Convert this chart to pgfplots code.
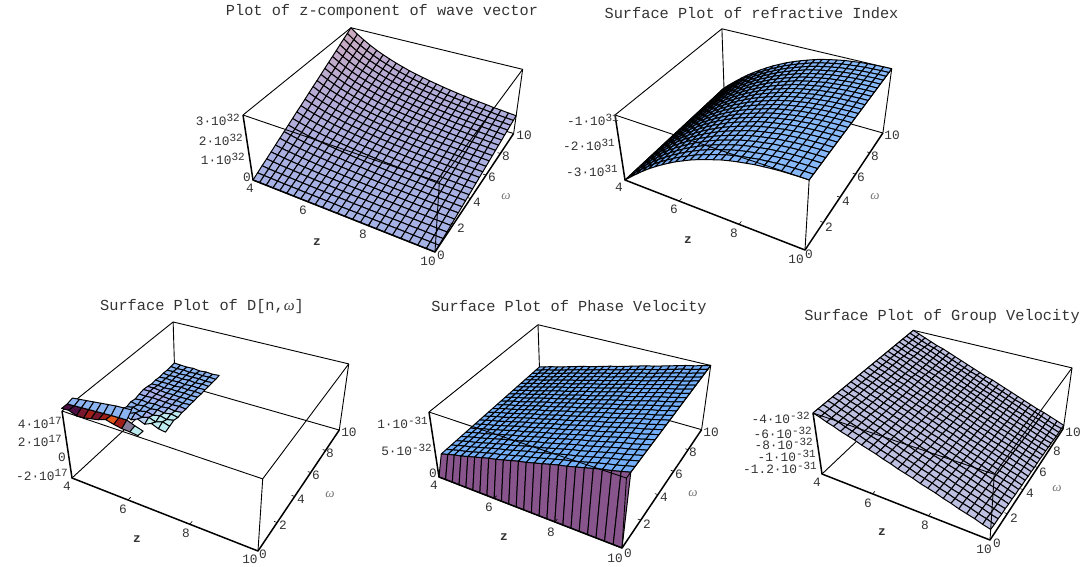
\documentclass[border=0pt]{standalone}
\usepackage{fontspec}
\usepackage{pgfplots}
\usepackage{pgfplotstable}
\pgfplotsset{compat=1.18}
\setmainfont{Liberation Mono}
\newfontfamily\wfont{Liberation Serif}

% the five boxes share one view; coordinates are image pixels, y down
\def\camA{-.137}\def\camB{.2}\def\camC{-.07}
\newcommand\setcam[8]{% O (z=4,w=0), U (z=10,w=0), V (z=4,w=10), T (top of O)
  \pgfmathsetmacro\xo{#1}\pgfmathsetmacro\yo{#2}
  \pgfmathsetmacro\xu{#3*(1+\camA)-#1}\pgfmathsetmacro\yu{#4*(1+\camA)-#2}
  \pgfmathsetmacro\xv{#5*(1+\camB)-#1}\pgfmathsetmacro\yv{#6*(1+\camB)-#2}
  \pgfmathsetmacro\xt{#7*(1+\camC)-#1}\pgfmathsetmacro\yt{#8*(1+\camC)-#2}}
\newcommand\PW[3]{(1+\camA*(#1)+\camB*(#2)+\camC*(#3))}
\newcommand\PX[3]{((\xo+\xu*(#1)+\xv*(#2)+\xt*(#3))/\PW{#1}{#2}{#3})}
\newcommand\PY[3]{(-(\yo+\yu*(#1)+\yv*(#2)+\yt*(#3))/\PW{#1}{#2}{#3})}
% row and column of a table entry; the .5 keeps floor safe from rounding
\newcommand\rowof[1]{floor((\coordindex+.5)/#1)}
\newcommand\colof[1]{(\coordindex-#1*\rowof{#1})}

\newcommand\surface[7][]{% options, table, cols, first z index, first w index, fmin, frange
  \addplot3[surf,shader=faceted,z buffer=none,faceted color=black,line width=1pt,line join=round,mesh/cols=#3,#1] table[
    x index=0,y index=0,z index=0,
    x expr=\PX{(#4+\colof{#3})/24}{(#5-\rowof{#3})/24}{(\thisrow{f}-(#6))/(#7)},
    y expr=\PY{(#4+\colof{#3})/24}{(#5-\rowof{#3})/24}{(\thisrow{f}-(#6))/(#7)},
    z expr=\thisrow{f}] {#2};}
\newcommand\edge[2][.9pt]{%
  \addplot3[black,no marks,line width=#1,line join=round] table[row sep=\\,
    x expr=\PX{\thisrow{u}}{\thisrow{v}}{\thisrow{t}},
    y expr=\PY{\thisrow{u}}{\thisrow{v}}{\thisrow{t}},
    z expr=0] {u v t\\#2};}
\newcommand\boxback{%
  \edge{0 0 1\\0 1 1\\1 1 1\\1 1 0\\}
  \edge{0 0 0\\0 1 0\\1 1 0\\}
  \edge{0 1 0\\0 1 1\\}}
\newcommand\boxfront{%
  \edge{0 0 1\\1 0 1\\1 1 1\\}
  \edge{1 0 0\\1 0 1\\}
  \edge[1.5pt]{0 0 1\\0 0 0\\1 0 0\\1 1 0\\}
  \edge[.6pt]{.333 0 0\\.333 .022 0\\}\edge[.6pt]{.667 0 0\\.667 .022 0\\}
  \edge[.6pt]{1 .2 0\\.985 .2 0\\}\edge[.6pt]{1 .4 0\\.985 .4 0\\}
  \edge[.6pt]{1 .6 0\\.985 .6 0\\}\edge[.6pt]{1 .8 0\\.985 .8 0\\}}

\tikzset{tk/.style={font=\fontsize{12.8}{13}\selectfont,inner sep=0pt,text=black!80},
  ttl/.style={font=\fontsize{15.3}{16}\selectfont,inner sep=0pt,text=black!80}}
\newcommand\pw[2]{#1·10\raisebox{.7ex}{\fontsize{11}{11}\selectfont #2}}
\newcommand\wlet{{\wfont\itshape ω}}
\newcommand\lab[3]{\node[tk] at (axis cs:#1,-#2,0) {#3};}
\newcommand\rlab[3]{\node[tk,anchor=east] at (axis cs:#1,-#2,0) {#3};}
\newcommand\wlab[2]{\node[tk,text=black!55,font=\fontsize{13}{13}\selectfont] at (axis cs:#1,-#2,0) {\wlet};}
\newcommand\zlab[2]{\node[tk,font=\fontsize{12.8}{13}\bfseries\selectfont] at (axis cs:#1,-#2,0) {z};}
\newcommand\ttl[3]{\node[ttl] at (axis cs:#1,-#2,0) {#3};}

\pgfplotsset{panel/.style={at={(0,0)},anchor=south west,scale only axis,width=1089pt,height=567pt,
  xmin=0,xmax=1089,ymin=-567,ymax=0,view={0}{90},hide axis,clip=false},
  colormap={mapA}{rgb255(0cm)=(165,178,230); rgb255(1cm)=(182,172,215); rgb255(2cm)=(205,170,190)},
  colormap={mapB}{rgb255(0cm)=(105,158,235); rgb255(1cm)=(135,185,250)},
  colormap={mapC}{rgb255(0cm)=(140,180,240); rgb255(1cm)=(170,175,235); rgb255(2cm)=(190,235,240); rgb255(3cm)=(75,15,65); rgb255(4cm)=(160,30,25); rgb255(5cm)=(225,85,25)},
  colormap={mapD}{rgb255(0cm)=(115,175,250); rgb255(1cm)=(135,85,140); rgb255(2cm)=(135,85,140)},
  colormap={mapE}{rgb255(0cm)=(190,192,225); rgb255(1cm)=(190,192,225)}}

% z-component of wave vector, in 10^30; rows from w=10 down to w=0
\pgfplotstableread[row sep=\\]{f\\
330\\304\\282\\262\\244\\229\\215\\202\\191\\180\\171\\163\\155\\148\\141\\135\\129\\124\\119\\115\\111\\106\\103\\99\\96\\
316\\291\\270\\251\\234\\219\\206\\194\\183\\173\\164\\156\\149\\142\\135\\129\\124\\119\\114\\110\\106\\102\\98\\95\\92\\
303\\279\\258\\240\\224\\210\\197\\185\\175\\165\\157\\149\\142\\136\\130\\124\\119\\114\\109\\105\\101\\97\\94\\91\\88\\
289\\266\\246\\229\\214\\200\\188\\177\\167\\158\\150\\143\\136\\129\\124\\118\\113\\109\\104\\101\\97\\93\\90\\87\\84\\
275\\253\\235\\218\\204\\191\\179\\169\\159\\150\\143\\136\\129\\123\\118\\112\\108\\103\\99\\96\\92\\89\\86\\83\\80\\
261\\241\\223\\207\\193\\181\\170\\160\\151\\143\\136\\129\\123\\117\\112\\107\\102\\98\\94\\91\\88\\84\\81\\78\\76\\
248\\228\\211\\196\\183\\172\\161\\152\\143\\135\\129\\122\\116\\111\\106\\101\\97\\93\\89\\86\\83\\80\\77\\74\\72\\
234\\215\\199\\185\\173\\162\\152\\143\\135\\128\\121\\115\\110\\105\\100\\96\\92\\88\\84\\81\\78\\75\\73\\70\\68\\
220\\203\\188\\174\\163\\152\\143\\135\\127\\120\\114\\109\\103\\99\\94\\90\\86\\83\\79\\77\\74\\71\\68\\66\\64\\
206\\190\\176\\164\\153\\143\\134\\126\\119\\113\\107\\102\\97\\92\\88\\84\\81\\78\\74\\72\\69\\66\\64\\62\\60\\
193\\177\\164\\153\\143\\133\\125\\118\\111\\105\\100\\95\\90\\86\\82\\79\\75\\72\\69\\67\\65\\62\\60\\58\\56\\
179\\165\\152\\142\\132\\124\\116\\110\\103\\98\\93\\88\\84\\80\\77\\73\\70\\67\\64\\62\\60\\58\\56\\54\\52\\
165\\152\\141\\131\\122\\114\\107\\101\\96\\90\\86\\81\\78\\74\\71\\67\\65\\62\\60\\57\\55\\53\\51\\50\\48\\
151\\139\\129\\120\\112\\105\\98\\93\\88\\83\\79\\75\\71\\68\\65\\62\\59\\57\\55\\53\\51\\49\\47\\45\\44\\
138\\127\\117\\109\\102\\95\\90\\84\\80\\75\\71\\68\\65\\62\\59\\56\\54\\52\\50\\48\\46\\44\\43\\41\\40\\
124\\114\\106\\98\\92\\86\\81\\76\\72\\68\\64\\61\\58\\55\\53\\51\\49\\47\\45\\43\\41\\40\\39\\37\\36\\
110\\101\\94\\87\\81\\76\\72\\67\\64\\60\\57\\54\\52\\49\\47\\45\\43\\41\\40\\38\\37\\35\\34\\33\\32\\
96\\89\\82\\76\\71\\67\\63\\59\\56\\53\\50\\48\\45\\43\\41\\39\\38\\36\\35\\34\\32\\31\\30\\29\\28\\
83\\76\\70\\65\\61\\57\\54\\51\\48\\45\\43\\41\\39\\37\\35\\34\\32\\31\\30\\29\\28\\27\\26\\25\\24\\
69\\63\\59\\55\\51\\48\\45\\42\\40\\38\\36\\34\\32\\31\\29\\28\\27\\26\\25\\24\\23\\22\\21\\21\\20\\
55\\51\\47\\44\\41\\38\\36\\34\\32\\30\\29\\27\\26\\25\\24\\22\\22\\21\\20\\19\\18\\18\\17\\17\\16\\
41\\38\\35\\33\\31\\29\\27\\25\\24\\23\\21\\20\\19\\18\\18\\17\\16\\16\\15\\14\\14\\13\\13\\12\\12\\
28\\25\\23\\22\\20\\19\\18\\17\\16\\15\\14\\14\\13\\12\\12\\11\\11\\10\\10\\10\\9\\9\\9\\8\\8\\
14\\13\\12\\11\\10\\10\\9\\8\\8\\8\\7\\7\\6\\6\\6\\6\\5\\5\\5\\5\\5\\4\\4\\4\\4\\
0\\0\\0\\0\\0\\0\\0\\0\\0\\0\\0\\0\\0\\0\\0\\0\\0\\0\\0\\0\\0\\0\\0\\0\\0\\
}\tabA

% refractive index, in 10^29: the same profile along z for every w
\pgfplotstableread[row sep=\\]{f\\
-330\\-307\\-285\\-264\\-244\\-226\\-209\\-193\\-178\\-165\\-152\\-141\\-131\\-122\\-113\\-106\\-100\\-95\\-90\\-87\\-84\\-82\\-81\\-80\\-80\\
}\profB
\pgfplotsforeachungrouped \n in {1,...,25}{\pgfplotstablevertcat\tabB\profB}

% D[n,w], in 10^15: only these cells stay inside the plot range
\pgfplotstableread[row sep=\\]{f c\\
8 0\\4 0\\0 0\\6 0\\-4 0\\4 0\\-2 0\\6 0\\
5 0\\0 0\\6 0\\-3 0\\5 0\\0 0\\4 0\\0 0\\
0 0\\5 0\\-2 0\\4 0\\0 0\\5 0\\-3 0\\2 0\\
4 0\\-3 0\\5 0\\0 0\\6 0\\-2 0\\4 0\\0 0\\
-2 0\\5 0\\0 0\\5 0\\-3 0\\4 0\\0 0\\3 0\\
5 0\\0 0\\5 0\\-2 0\\6 0\\0 0\\3 0\\-2 0\\
0 0\\6 0\\-3 0\\5 0\\0 0\\5 0\\-2 0\\3 0\\
12 1\\15 1\\8 1\\0 0\\5 0\\-2 0\\4 0\\0 0\\
18 1\\20 1\\10 1\\4 1\\0 1\\5 0\\-3 0\\4 0\\
8 0\\5 1\\12 1\\8 1\\4 1\\0 0\\5 0\\-2 0\\
-6 0\\4 0\\-4 0\\6 0\\-3 0\\6 0\\-4 2\\4 2\\
6 0\\-8 0\\6 0\\-6 0\\8 0\\-5 2\\8 2\\-6 2\\
-8 0\\10 0\\-10 0\\8 0\\-8 2\\10 2\\-8 2\\8 2\\
12 0\\-12 0\\14 0\\-12 0\\12 2\\-14 2\\12 2\\-12 2\\
-15 0\\18 0\\-18 0\\16 2\\-18 2\\15 2\\-18 2\\-30 2\\
}\tabCband
\pgfplotstableread[row sep=\\]{f c\\
510 0\\520 0\\530 0\\540 0\\550 0\\560 0\\570 0\\575 0\\580 0\\
495 0\\500 0\\505 0\\510 0\\515 0\\520 0\\525 0\\528 0\\530 0\\
}\tabCstrip
\pgfplotstableread[row sep=\\]{f c\\
495 3\\500 3\\505 3\\510 4\\515 4\\520 3\\525 5\\528 5\\530 3\\500 2\\475 2\\
495 3\\500 3\\470 3\\475 4\\490 4\\505 3\\530 5\\510 5\\495 3\\490 2\\480 2\\
}\tabCdark

% phase velocity, in 10^-33: the same profile for every w, and zero at w=0
\pgfplotstableread[row sep=\\]{f m\\
39 0\\43 0\\47 0\\50 0\\54 0\\58 0\\62 0\\66 0\\69 0\\73 0\\77 0\\81 0\\84 0\\88 0\\92 0\\96 0\\100 0\\103 0\\107 0\\111 0\\115 0\\119 0\\122 0\\126 0\\130 0\\
}\profD
\pgfplotstableread[row sep=\\]{f m\\
0 2\\0 2\\0 2\\0 2\\0 2\\0 2\\0 2\\0 2\\0 2\\0 2\\0 2\\0 2\\0 2\\0 2\\0 2\\0 2\\0 2\\0 2\\0 2\\0 2\\0 2\\0 2\\0 2\\0 2\\0 2\\
}\zeroD
\pgfplotsforeachungrouped \n in {1,...,24}{\pgfplotstablevertcat\tabD\profD}
\pgfplotstablevertcat\tabD\zeroD

% group velocity, in 10^-33
\pgfplotstableread[row sep=\\]{f\\
-32\\-36\\-40\\-44\\-48\\-51\\-55\\-59\\-63\\-67\\-71\\-75\\-79\\-82\\-86\\-90\\-94\\-98\\-102\\-106\\-110\\-113\\-117\\-121\\-125\\
-32\\-36\\-40\\-44\\-47\\-51\\-55\\-59\\-63\\-67\\-71\\-74\\-78\\-82\\-86\\-90\\-94\\-98\\-101\\-105\\-109\\-113\\-117\\-121\\-124\\
-32\\-36\\-40\\-43\\-47\\-51\\-55\\-59\\-63\\-66\\-70\\-74\\-78\\-82\\-86\\-89\\-93\\-97\\-101\\-105\\-109\\-112\\-116\\-120\\-124\\
-32\\-36\\-40\\-43\\-47\\-51\\-55\\-59\\-63\\-66\\-70\\-74\\-78\\-82\\-85\\-89\\-93\\-97\\-101\\-104\\-108\\-112\\-116\\-120\\-124\\
-32\\-36\\-40\\-43\\-47\\-51\\-55\\-59\\-62\\-66\\-70\\-74\\-78\\-81\\-85\\-89\\-93\\-96\\-100\\-104\\-108\\-112\\-115\\-119\\-123\\
-32\\-36\\-40\\-43\\-47\\-51\\-55\\-58\\-62\\-66\\-70\\-73\\-77\\-81\\-85\\-89\\-92\\-96\\-100\\-104\\-107\\-111\\-115\\-119\\-122\\
-32\\-36\\-40\\-43\\-47\\-51\\-55\\-58\\-62\\-66\\-70\\-73\\-77\\-81\\-85\\-88\\-92\\-96\\-100\\-103\\-107\\-111\\-115\\-118\\-122\\
-32\\-36\\-39\\-43\\-47\\-51\\-54\\-58\\-62\\-66\\-69\\-73\\-77\\-80\\-84\\-88\\-92\\-95\\-99\\-103\\-107\\-110\\-114\\-118\\-121\\
-32\\-36\\-39\\-43\\-47\\-51\\-54\\-58\\-62\\-65\\-69\\-73\\-77\\-80\\-84\\-88\\-91\\-95\\-99\\-102\\-106\\-110\\-114\\-117\\-121\\
-32\\-36\\-39\\-43\\-47\\-50\\-54\\-58\\-62\\-65\\-69\\-73\\-76\\-80\\-84\\-87\\-91\\-95\\-98\\-102\\-106\\-109\\-113\\-117\\-120\\
-32\\-36\\-39\\-43\\-47\\-50\\-54\\-58\\-61\\-65\\-69\\-72\\-76\\-80\\-83\\-87\\-91\\-94\\-98\\-102\\-105\\-109\\-113\\-116\\-120\\
-32\\-36\\-39\\-43\\-47\\-50\\-54\\-58\\-61\\-65\\-68\\-72\\-76\\-79\\-83\\-87\\-90\\-94\\-98\\-101\\-105\\-108\\-112\\-116\\-120\\
-32\\-36\\-39\\-43\\-47\\-50\\-54\\-57\\-61\\-65\\-68\\-72\\-76\\-79\\-83\\-86\\-90\\-94\\-97\\-101\\-105\\-108\\-112\\-115\\-119\\
-32\\-36\\-39\\-43\\-46\\-50\\-54\\-57\\-61\\-64\\-68\\-72\\-75\\-79\\-82\\-86\\-90\\-93\\-97\\-100\\-104\\-108\\-111\\-115\\-119\\
-32\\-36\\-39\\-43\\-46\\-50\\-53\\-57\\-61\\-64\\-68\\-71\\-75\\-79\\-82\\-86\\-89\\-93\\-96\\-100\\-104\\-107\\-111\\-114\\-118\\
-32\\-36\\-39\\-43\\-46\\-50\\-53\\-57\\-60\\-64\\-68\\-71\\-75\\-78\\-82\\-85\\-89\\-93\\-96\\-100\\-103\\-107\\-110\\-114\\-118\\
-32\\-36\\-39\\-43\\-46\\-50\\-53\\-57\\-60\\-64\\-67\\-71\\-75\\-78\\-82\\-85\\-89\\-92\\-96\\-99\\-103\\-106\\-110\\-113\\-117\\
-32\\-36\\-39\\-43\\-46\\-50\\-53\\-57\\-60\\-64\\-67\\-71\\-74\\-78\\-81\\-85\\-88\\-92\\-95\\-99\\-102\\-106\\-109\\-113\\-117\\
-32\\-36\\-39\\-43\\-46\\-50\\-53\\-57\\-60\\-64\\-67\\-71\\-74\\-78\\-81\\-85\\-88\\-92\\-95\\-99\\-102\\-106\\-109\\-113\\-116\\
-32\\-35\\-39\\-42\\-46\\-49\\-53\\-56\\-60\\-63\\-67\\-70\\-74\\-77\\-81\\-84\\-88\\-91\\-95\\-98\\-102\\-105\\-109\\-112\\-116\\
-32\\-35\\-39\\-42\\-46\\-49\\-53\\-56\\-60\\-63\\-67\\-70\\-74\\-77\\-80\\-84\\-87\\-91\\-94\\-98\\-101\\-105\\-108\\-112\\-115\\
-32\\-35\\-39\\-42\\-46\\-49\\-53\\-56\\-59\\-63\\-66\\-70\\-73\\-77\\-80\\-84\\-87\\-90\\-94\\-97\\-101\\-104\\-108\\-111\\-115\\
-32\\-35\\-39\\-42\\-46\\-49\\-53\\-56\\-59\\-63\\-66\\-70\\-73\\-76\\-80\\-83\\-87\\-90\\-94\\-97\\-100\\-104\\-107\\-111\\-114\\
-32\\-35\\-39\\-42\\-46\\-49\\-52\\-56\\-59\\-63\\-66\\-69\\-73\\-76\\-80\\-83\\-86\\-90\\-93\\-97\\-100\\-103\\-107\\-110\\-114\\
-32\\-35\\-39\\-42\\-46\\-49\\-52\\-56\\-59\\-62\\-66\\-69\\-73\\-76\\-79\\-83\\-86\\-89\\-93\\-96\\-100\\-103\\-106\\-110\\-113\\
}\tabE

\begin{document}
\begin{tikzpicture}[x=1pt,y=1pt]
\useasboundingbox (0,0) rectangle (1089,567);

\setcam{253}{180}{435}{252}{353}{87}{243}{115}
\begin{axis}[panel,colormap name=mapA]
\boxback
\surface{\tabA}{25}{0}{24}{0}{330}
\boxfront
\ttl{382}{12}{Plot of z-component of wave vector}
\rlab{240}{120}{\pw{3}{32}}\rlab{243}{140}{\pw{2}{32}}\rlab{245}{159}{\pw{1}{32}}\lab{247}{177}{0}
\lab{250}{188}{4}\lab{303}{210}{6}\lab{363}{234}{8}\lab{428}{261}{10}
\lab{441}{255}{0}\lab{461}{228}{2}\lab{477}{202}{4}\lab{492}{177}{6}\lab{506}{156}{8}\lab{524}{135}{10}
\zlab{317}{242}\wlab{506}{197}
\end{axis}

\setcam{625}{180}{805}{250}{724}{88}{615}{115}
\begin{axis}[panel,colormap name=mapB]
\boxback
\surface{\tabB}{25}{0}{24}{-330}{250}
\boxfront
\ttl{751.5}{13}{Surface Plot of refractive Index}
\rlab{619}{120}{\pw{-1}{31}}\rlab{615}{145}{\pw{-2}{31}}\rlab{618}{171}{\pw{-3}{31}}
\lab{619}{187}{4}\lab{674}{209}{6}\lab{734}{233}{8}\lab{796}{259}{10}
\lab{809}{254}{0}\lab{829}{227}{2}\lab{846}{201}{4}\lab{861}{177}{6}\lab{875}{156}{8}\lab{892}{135}{10}
\zlab{688}{240}\wlab{875}{197}
\end{axis}

\setcam{72}{478}{258}{551}{175}{383}{62}{411}
\begin{axis}[panel,colormap name=mapC,point meta min=0,point meta max=5]
\boxback
\surface[point meta=\thisrow{c}]{\tabCband}{8}{0}{24}{-230}{700}
\surface[point meta=\thisrow{c}]{\tabCdark}{11}{0}{1}{-230}{700}
\surface[point meta=\thisrow{c}]{\tabCstrip}{9}{0}{2}{-230}{700}
\boxfront
\ttl{202}{307}{Surface Plot of D[n,\wlet]}
\rlab{62}{423}{\pw{4}{17}}\rlab{62}{441}{\pw{2}{17}}\lab{62}{457}{0}\rlab{68}{475}{\pw{-2}{17}}
\lab{67}{486}{4}\lab{123}{509}{6}\lab{186}{533}{8}\lab{250}{559}{10}
\lab{263}{554}{0}\lab{283}{525}{2}\lab{301}{499}{4}\lab{316}{475}{6}\lab{330}{453}{8}\lab{349}{432}{10}
\zlab{137}{539}\wlab{330}{495}
\end{axis}

\setcam{439}{477}{622}{548}{540}{384}{429}{412}
\begin{axis}[panel,colormap name=mapD]
\boxback
\surface[point meta=\thisrow{m}]{\tabD}{25}{0}{24}{0}{130}
\boxfront
\ttl{569}{308}{Surface Plot of Phase Velocity}
\rlab{428}{423}{\pw{1}{-31}}\rlab{432}{450}{\pw{5}{-32}}\lab{433}{473}{0}
\lab{434}{485}{4}\lab{489}{507}{6}\lab{551}{532}{8}\lab{615}{558}{10}
\lab{628}{553}{0}\lab{647}{524}{2}\lab{664}{497}{4}\lab{679}{474}{6}\lab{693}{452}{8}\lab{711}{432}{10}
\zlab{504}{537}\wlab{693}{494}
\end{axis}

\setcam{822}{474}{990}{540}{915}{386}{813}{413}
\begin{axis}[panel,colormap name=mapE]
\boxback
\surface{\tabE}{25}{0}{24}{-130}{98}
\boxfront
\ttl{942}{317}{Surface Plot of Group Velocity}
\rlab{810}{418}{\pw{-4}{-32}}\rlab{812}{433}{\pw{-6}{-32}}\rlab{813}{444}{\pw{-8}{-32}}\rlab{816}{456}{\pw{-1}{-31}}\rlab{817}{468}{\pw{-1.2}{-31}}
\lab{817}{482}{4}\lab{868}{503}{6}\lab{925}{525}{8}\lab{984}{549}{10}
\lab{997}{543}{0}\lab{1014}{518}{2}\lab{1030}{493}{4}\lab{1043}{472}{6}\lab{1057}{451}{8}\lab{1073}{432}{10}
\zlab{882}{532}\wlab{1057}{489}
\end{axis}
\end{tikzpicture}
\end{document}
